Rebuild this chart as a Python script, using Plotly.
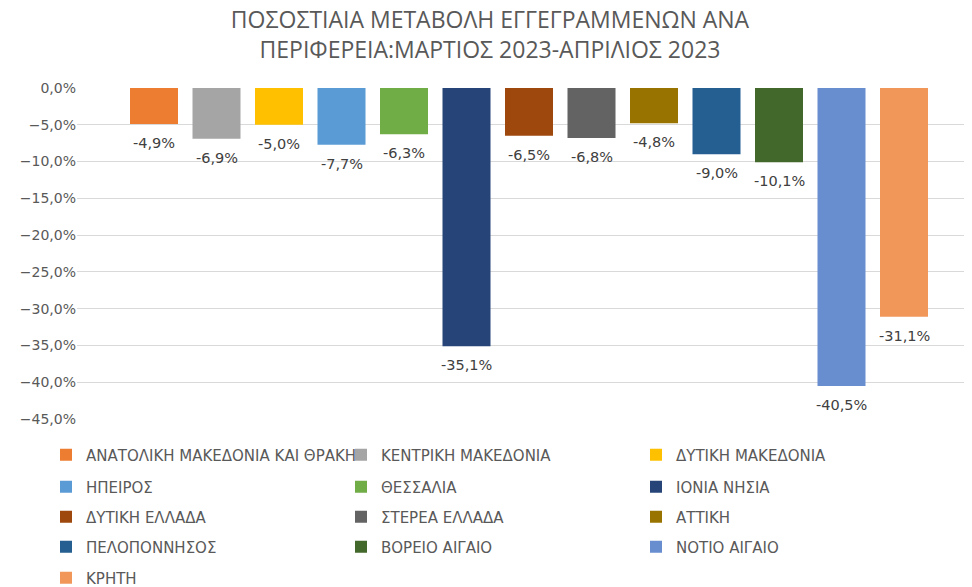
import plotly.graph_objects as go

regions = ["ΑΝΑΤΟΛΙΚΗ ΜΑΚΕΔΟΝΙΑ ΚΑΙ ΘΡΑΚΗ", "ΚΕΝΤΡΙΚΗ ΜΑΚΕΔΟΝΙΑ", "ΔΥΤΙΚΗ ΜΑΚΕΔΟΝΙΑ",
           "ΗΠΕΙΡΟΣ", "ΘΕΣΣΑΛΙΑ", "ΙΟΝΙΑ ΝΗΣΙΑ",
           "ΔΥΤΙΚΗ ΕΛΛΑΔΑ", "ΣΤΕΡΕΑ ΕΛΛΑΔΑ", "ΑΤΤΙΚΗ",
           "ΠΕΛΟΠΟΝΝΗΣΟΣ", "ΒΟΡΕΙΟ ΑΙΓΑΙΟ", "ΝΟΤΙΟ ΑΙΓΑΙΟ",
           "ΚΡΗΤΗ"]
changes = [-0.049, -0.069, -0.050, -0.077, -0.063, -0.351, -0.065, -0.068, -0.048,
           -0.090, -0.101, -0.405, -0.311]
colors = ["#ED7D31", "#A5A5A5", "#FFC000", "#5B9BD5", "#70AD47", "#264478",
          "#9E480E", "#636363", "#997300", "#255E91", "#43682B", "#698ED0", "#F1975A"]
y_ticks = [0, -0.05, -0.10, -0.15, -0.20, -0.25, -0.30, -0.35, -0.40, -0.45]
title_text = "ΠΟΣΟΣΤΙΑΙΑ ΜΕΤΑΒΟΛΗ ΕΓΓΕΓΡΑΜΜΕΝΩΝ ΑΝΑ<br>ΠΕΡΙΦΕΡΕΙΑ:ΜΑΡΤΙΟΣ 2023-ΑΠΡΙΛΙΟΣ 2023"

TFONT = "Open Sans, Noto Sans, sans-serif"
FONT = "DejaVu Sans, sans-serif"
legend_names = ["legend", "legend2", "legend3", "legend4", "legend5"]

# page body has an 8px margin, so the figure is sized to fit the window
OFF = 8
W, H = 972 - OFF, 587 - OFF
plot_l, plot_r, plot_t, plot_b = 77 - OFF, 968 - OFF, 88 - OFF, 419 - OFF
row_y = [455 - OFF, 487 - OFF, 517 - OFF, 547 - OFF, 578 - OFF]

fig = go.Figure()
for i, (name, val, col) in enumerate(zip(regions, changes, colors)):
    fig.add_trace(go.Bar(
        x=[name], y=[val], name=name, width=0.768,
        marker=dict(color=col, line=dict(width=0)),
        legend=legend_names[i // 3],
        hovertemplate="%{x}: %{y:.1%}<extra></extra>",
    ))
    fig.add_annotation(
        x=name, y=val, xref="x", yref="y",
        text=f"{val * 100:.1f}%".replace(".", ","),
        showarrow=False, yanchor="middle", yshift=-19,
        font=dict(size=14.5, color="#404040", family=FONT),
    )

layout_legends = {}
for k, ln in enumerate(legend_names):
    layout_legends[ln] = dict(
        orientation="h", xref="container", yref="container",
        x=38 / W, xanchor="left",
        y=1 - row_y[k] / H, yanchor="middle",
        entrywidth=250, entrywidthmode="pixels",
        font=dict(size=15, color="#595959", family=FONT),
        bgcolor="rgba(0,0,0,0)", itemclick=False, itemdoubleclick=False,
        borderwidth=0,
    )

# category spacing ~62.5 px; first bar centre 77 px into the plot
step = 62.5
x0 = -(154 - 77) / step
x1 = x0 + (plot_r - plot_l) / step

fig.update_layout(
    width=W, height=H,
    margin=dict(l=plot_l, r=W - plot_r, t=plot_t, b=H - plot_b, autoexpand=False),
    paper_bgcolor="white", plot_bgcolor="white",
    separators=",.",
    barmode="overlay",
    title=dict(text=title_text, x=0.5, xanchor="center",
               yref="container", y=1 - 20 / H, yanchor="top",
               font=dict(size=23, color="#595959", family=TFONT)),
    xaxis=dict(type="category", range=[x0, x1], showticklabels=False,
               showgrid=False, zeroline=False, showline=False, fixedrange=True),
    yaxis=dict(range=[-0.45, 0], tickvals=y_ticks, tickformat=".1%",
               showgrid=True, gridcolor="#D9D9D9", gridwidth=1,
               zeroline=False, showline=False, ticks="", automargin=False,
               tickfont=dict(size=14, color="#595959", family=FONT)),
    showlegend=True,
    **layout_legends,
)

fig.write_html("out.html")
